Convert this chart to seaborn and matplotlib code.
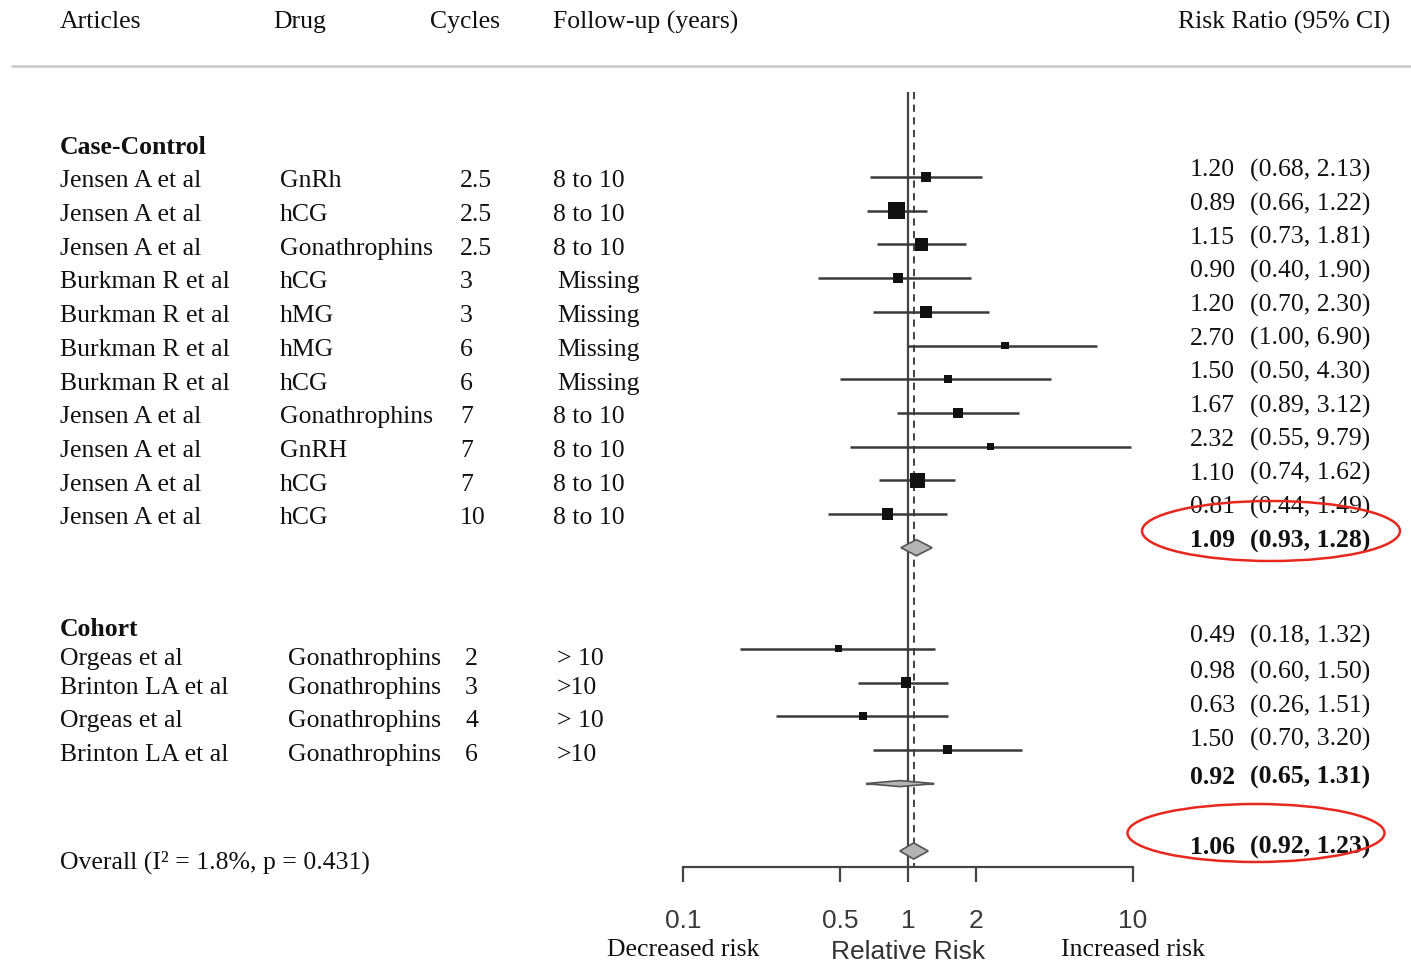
import numpy as np
import pandas as pd
import matplotlib
matplotlib.use("Agg")
import matplotlib.pyplot as plt
import matplotlib.transforms as mtransforms
from matplotlib.patches import Ellipse, Polygon
from matplotlib.lines import Line2D
from matplotlib.ticker import FixedLocator, NullLocator, FixedFormatter
import seaborn as sns

# ---------------- data ----------------
header_cols = ["Articles", "Drug", "Cycles", "Follow-up (years)"]
header_rr = "Risk Ratio (95% CI)"

cc_title = "Case-Control"
cc_articles = ["Jensen A et al"] * 3 + ["Burkman R et al"] * 4 + ["Jensen A et al"] * 4
cc_drugs = ["GnRh", "hCG", "Gonathrophins", "hCG", "hMG", "hMG", "hCG",
            "Gonathrophins", "GnRH", "hCG", "hCG"]
cc_cycles = ["2.5", "2.5", "2.5", "3", "3", "6", "6", "7", "7", "7", "10"]
cc_follow = ["8 to 10"] * 3 + ["Missing"] * 4 + ["8 to 10"] * 4
cc_rr = [1.20, 0.89, 1.15, 0.90, 1.20, 2.70, 1.50, 1.67, 2.32, 1.10, 0.81]
cc_lo = [0.68, 0.66, 0.73, 0.40, 0.70, 1.00, 0.50, 0.89, 0.55, 0.74, 0.44]
cc_hi = [2.13, 1.22, 1.81, 1.90, 2.30, 6.90, 4.30, 3.12, 9.79, 1.62, 1.49]
cc_weight = [6.4, 25.6, 12.1, 6.4, 10.0, 3.6, 3.6, 8.1, 2.5, 16.9, 10.0]
cc_summary = [1.09, 0.93, 1.28]

co_title = "Cohort"
co_articles = ["Orgeas et al", "Brinton LA et al", "Orgeas et al", "Brinton LA et al"]
co_drugs = ["Gonathrophins"] * 4
co_cycles = ["2", "3", "4", "6"]
co_follow = ["> 10", ">10", "> 10", ">10"]
co_rr = [0.49, 0.98, 0.63, 1.50]
co_lo = [0.18, 0.60, 0.26, 0.70]
co_hi = [1.32, 1.50, 1.51, 3.20]
co_weight = [2.5, 8.1, 3.6, 4.9]
co_summary = [0.92, 0.65, 1.31]

overall_label = "Overall (I\u00b2 = 1.8%, p = 0.431)"
overall = [1.06, 0.92, 1.23]

xticks = [0.1, 0.5, 1, 2, 10]
xticklabels = ["0.1", "0.5", "1", "2", "10"]
xlabel = "Relative Risk"
left_label = "Decreased risk"
right_label = "Increased risk"

# ---------------- layout ----------------
W, H = 1411, 966
ROW0_PX, ROW_PX = 177.0, 33.7          # pixel of first row, pixel per row
AX_BOTTOM_PX = 867.0

cc_rows = np.arange(len(cc_rr))
cc_sum_row = len(cc_rr)
co_rows = 14 + np.arange(len(co_rr))
co_sum_row = 18
overall_row = 20

def prow(px):
    return (px - ROW0_PX) / ROW_PX

sns.set_theme(style="white")
plt.rcParams["font.family"] = ["Liberation Serif", "DejaVu Serif"]

fig = plt.figure(figsize=(W / 100, H / 100), dpi=100)
ax = fig.add_axes([683 / W, 1 - AX_BOTTOM_PX / H, 450 / W, AX_BOTTOM_PX / H])
ax.set_facecolor("white")
ax.set_xscale("log")

df = pd.DataFrame({
    "rr": cc_rr + co_rr,
    "row": list(cc_rows) + list(co_rows),
    "weight": cc_weight + co_weight,
})

line_col = "#3a3a3a"
# CI lines
ax.hlines(df["row"], cc_lo + co_lo, cc_hi + co_hi, color=line_col, lw=1.8, zorder=2)

# reference lines
ax.vlines(1, prow(92), prow(AX_BOTTOM_PX), color="#444444", lw=1.6, zorder=1)
ax.vlines(overall[0], prow(92), prow(AX_BOTTOM_PX), color="#333333", lw=1.3,
          linestyles=(0, (4, 3)), zorder=1)

# point estimates
wmax = max(cc_weight + co_weight)
sns.scatterplot(data=df, x="rr", y="row", size="weight", sizes=(12, 160),
                size_norm=(0, wmax), marker="s", color="#111111",
                edgecolor="none", legend=False, ax=ax, zorder=3)

# summary diamonds
def diamond(est, lo, hi, row, half_h):
    pts = [(lo, row), (est, row - half_h), (hi, row), (est, row + half_h)]
    ax.add_patch(Polygon(pts, closed=True, facecolor="#b4b4b4",
                         edgecolor="#555555", lw=1.2, zorder=4))

diamond(*cc_summary, cc_sum_row, 0.24)
ax.hlines(co_sum_row, co_summary[1], co_summary[2], color="#555555", lw=1.6, zorder=3)
diamond(*co_summary, co_sum_row, 0.09)
diamond(*overall, overall_row, 0.24)

ax.set_xlim(0.1, 10)
ax.set_ylim(prow(AX_BOTTOM_PX), prow(0))
ax.xaxis.set_major_locator(FixedLocator(xticks))
ax.xaxis.set_major_formatter(FixedFormatter(xticklabels))
ax.xaxis.set_minor_locator(NullLocator())
ax.set_yticks([])
for s in ["left", "right", "top"]:
    ax.spines[s].set_visible(False)
ax.spines["bottom"].set_color("#444444")
ax.spines["bottom"].set_linewidth(1.6)
ax.tick_params(axis="x", which="major", direction="out", length=11, width=1.6,
               color="#444444", pad=19, labelsize=19, labelcolor="#3a3a3a",
               bottom=True)
for lab in ax.get_xticklabels():
    lab.set_fontfamily("Liberation Sans")
ax.set_ylabel("")
ax.set_xlabel("")

# ---------------- text ----------------
trans = mtransforms.blended_transform_factory(fig.transFigure, ax.transData)
FS = 18.5
tcol = "#111111"

def t(xpx, row, s, **kw):
    kw.setdefault("fontsize", FS)
    kw.setdefault("color", tcol)
    kw.setdefault("va", "center")
    ax.text(xpx / W, row, s, transform=trans, clip_on=False, **kw)

# header
hdr_row = prow(22)
for xpx, s in zip([60, 273, 430, 553], header_cols):
    t(xpx, hdr_row, s)
t(1390, hdr_row, header_rr, ha="right")
fig.add_artist(Line2D([12 / W, 1.0], [1 - 66 / H] * 2, color="#c8c8c8", lw=1.8,
                      transform=fig.transFigure))

# case-control block
t(60, prow(147), cc_title, fontweight="bold")
for i, r in enumerate(cc_rows):
    y = r + 0.13
    t(60, y, cc_articles[i])
    t(280, y, cc_drugs[i])
    t(460, y, cc_cycles[i])
    t(553 if cc_follow[i] != "Missing" else 557, y, cc_follow[i])
    yr = r - 0.2
    t(1190, yr, f"{cc_rr[i]:.2f}")
    t(1250, yr, f"({cc_lo[i]:.2f}, {cc_hi[i]:.2f})")
t(1190, cc_sum_row - 0.2, f"{cc_summary[0]:.2f}", fontweight="bold")
t(1250, cc_sum_row - 0.2, f"({cc_summary[1]:.2f}, {cc_summary[2]:.2f})", fontweight="bold")

# cohort block
t(60, prow(629), co_title, fontweight="bold")
co_text_off = [0.3, 0.15, 0.15, 0.15]
for i, r in enumerate(co_rows):
    y = r + co_text_off[i]
    t(60, y, co_articles[i])
    t(288, y, co_drugs[i])
    t(465, y, co_cycles[i])
    t(557, y, co_follow[i])
    yr = r - 0.38 if i == 0 else r - 0.3
    t(1190, yr, f"{co_rr[i]:.2f}")
    t(1250, yr, f"({co_lo[i]:.2f}, {co_hi[i]:.2f})")
t(1190, co_sum_row - 0.18, f"{co_summary[0]:.2f}", fontweight="bold")
t(1250, co_sum_row - 0.18, f"({co_summary[1]:.2f}, {co_summary[2]:.2f})", fontweight="bold")

# overall
t(60, prow(862), overall_label)
t(1190, overall_row - 0.1, f"{overall[0]:.2f}", fontweight="bold")
t(1250, overall_row - 0.1, f"({overall[1]:.2f}, {overall[2]:.2f})", fontweight="bold")

# axis captions
fig.text(683 / W, 1 - 950 / H, left_label, ha="center", va="center", fontsize=FS, color=tcol)
fig.text(1133 / W, 1 - 950 / H, right_label, ha="center", va="center", fontsize=FS, color=tcol)
fig.text(908 / W, 1 - 964 / H, xlabel, ha="center", va="bottom", fontsize=19,
         color="#333333", family="Liberation Sans")

# red highlight ellipses
for cx, cy, ew, eh in [(1271, 531, 258, 60), (1256, 833, 257, 58)]:
    fig.add_artist(Ellipse((cx / W, 1 - cy / H), ew / W, eh / H, angle=0,
                           transform=fig.transFigure, fill=False,
                           edgecolor="#e8281e", lw=1.8))

fig.savefig("out.png", dpi=100, facecolor="white")
